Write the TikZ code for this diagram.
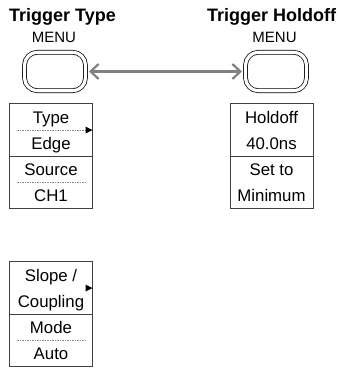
\documentclass[tikz,border=0pt]{standalone}
\usepackage{fontspec}
\setmainfont{Liberation Sans}
\usetikzlibrary{arrows.meta, positioning}

\begin{document}
\begin{tikzpicture}[
  x=1pt, y=-1pt,
  every node/.style={inner sep=0pt, outer sep=0pt},
  title/.style={font=\fontsize{18}{20}\selectfont\bfseries, anchor=base},
  menulbl/.style={font=\fontsize{15}{17}\selectfont, anchor=base},
  menubtn/.style={draw, double, double distance=3.2pt, line width=0.75pt,
    rounded corners=13pt, minimum width=61pt, minimum height=38.5pt},
  softkey/.style={draw=black!75, line width=0.9pt, minimum width=83pt, minimum height=52.5pt},
  keytext/.style={font=\fontsize{16.8}{18}\selectfont, anchor=base},
  sep/.style={draw=black!45, line width=0.7pt, dash pattern=on 1.5pt off 1pt},
  arr/.style={{Straight Barb[length=8pt,width=15pt]}-{Straight Barb[length=8pt,width=15pt]},
    draw=black!50, line width=2.2pt, shorten <=3.5pt, shorten >=3.5pt}
]
  \useasboundingbox (0,0) rectangle (341,369);

  % headings and menu buttons
  \node[title] (typetitle) at (62.5,22) {Trigger Type};
  \node[title] (holdtitle) at (271.5,22) {Trigger Holdoff};
  \node[menulbl] (typemenu) at (54,43) {MENU};
  \node[menulbl] (holdmenu) at (274.5,43) {MENU};
  \node[menubtn] (typebtn) at (55,71.5) {};
  \node[menubtn] (holdbtn) at (276,71.5) {};
  \draw[arr] (typebtn) -- (holdbtn);

  % soft keys
  \node[softkey] (typekey) at (51,130) {};
  \node[softkey] (sourcekey) at (51,182.5) {};
  \node[softkey] (holdkey) at (271.5,130) {};
  \node[softkey] (minkey) at (271.5,182.5) {};
  \node[softkey] (slopekey) at (51,288) {};
  \node[softkey] (modekey) at (51,340.5) {};

  \foreach \k in {typekey, sourcekey, modekey}
    \draw[sep] ([xshift=7.5pt]\k.west) -- ([xshift=-7.5pt]\k.east);
  \foreach \k in {typekey, slopekey}
    \fill (\k.east) -- ++(-7,-3.5) -- ++(0,7) -- cycle;

  \node[keytext] (typeA) at (51,123) {Type};
  \node[keytext] (typeB) at (51,149) {Edge};
  \node[keytext] (sourceA) at (51,175.5) {Source};
  \node[keytext] (sourceB) at (51,201.5) {CH1};
  \node[keytext] (holdA) at (271.5,123) {Holdoff};
  \node[keytext] (holdB) at (271.5,149) {40.0ns};
  \node[keytext] (minA) at (271.5,175.5) {Set to};
  \node[keytext] (minB) at (271.5,201.5) {Minimum};
  \node[keytext] (slopeA) at (51,281) {Slope /};
  \node[keytext] (slopeB) at (51,307) {Coupling};
  \node[keytext] (modeA) at (51,333.5) {Mode};
  \node[keytext] (modeB) at (51,359.5) {Auto};
\end{tikzpicture}
\end{document}
